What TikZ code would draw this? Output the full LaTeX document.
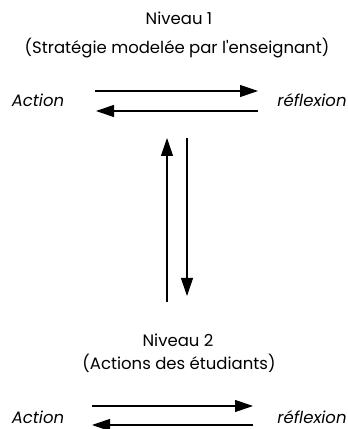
\documentclass[tikz,border=0pt]{standalone}
\usepackage{fontspec}
\setmainfont{Poppins}
\usetikzlibrary{arrows.meta}
\begin{document}
\begin{tikzpicture}[x=1pt,y=1pt,
  lbl/.style={inner sep=0pt,font=\fontsize{16.5}{18}\selectfont},
  itl/.style={inner sep=0pt,font=\fontsize{16.5}{18}\selectfont\itshape},
  arr/.style={line width=1.1pt,-{Triangle[length=18pt,width=12pt]}}]
\useasboundingbox (0,0) rectangle (348,429);
% Niveau 1
\node[lbl] (n1) at (179,411) {Niveau 1};
\node[lbl] (s1) at (177,381) {(Stratégie modelée par l\textquotesingle enseignant)};
\node[itl] (a1) at (38,329) {Action};
\node[itl] (r1) at (312,329) {réflexion};
\coordinate (a1t) at (95,338);
\coordinate (r1t) at (258,338);
\coordinate (a1b) at (96,318);
\coordinate (r1b) at (258,318);
\draw[arr] (a1t) -- (r1t);
\draw[arr] (r1b) -- (a1b);
% vertical links
\coordinate (vlb) at (167,127);
\coordinate (vlt) at (167,291);
\coordinate (vrt) at (187,291);
\coordinate (vrb) at (187,133);
\draw[arr] (vlb) -- (vlt);
\draw[arr] (vrt) -- (vrb);
% Niveau 2
\node[lbl] (n2) at (178,89) {Niveau 2};
\node[lbl] (s2) at (179,66) {(Actions des étudiants)};
\node[itl] (a2) at (38,12) {Action};
\node[itl] (r2) at (312,12) {réflexion};
\coordinate (a2t) at (92,23);
\coordinate (r2t) at (253,23);
\coordinate (a2b) at (92,4);
\coordinate (r2b) at (253,4);
\draw[arr] (a2t) -- (r2t);
\draw[arr] (r2b) -- (a2b);
\end{tikzpicture}
\end{document}
